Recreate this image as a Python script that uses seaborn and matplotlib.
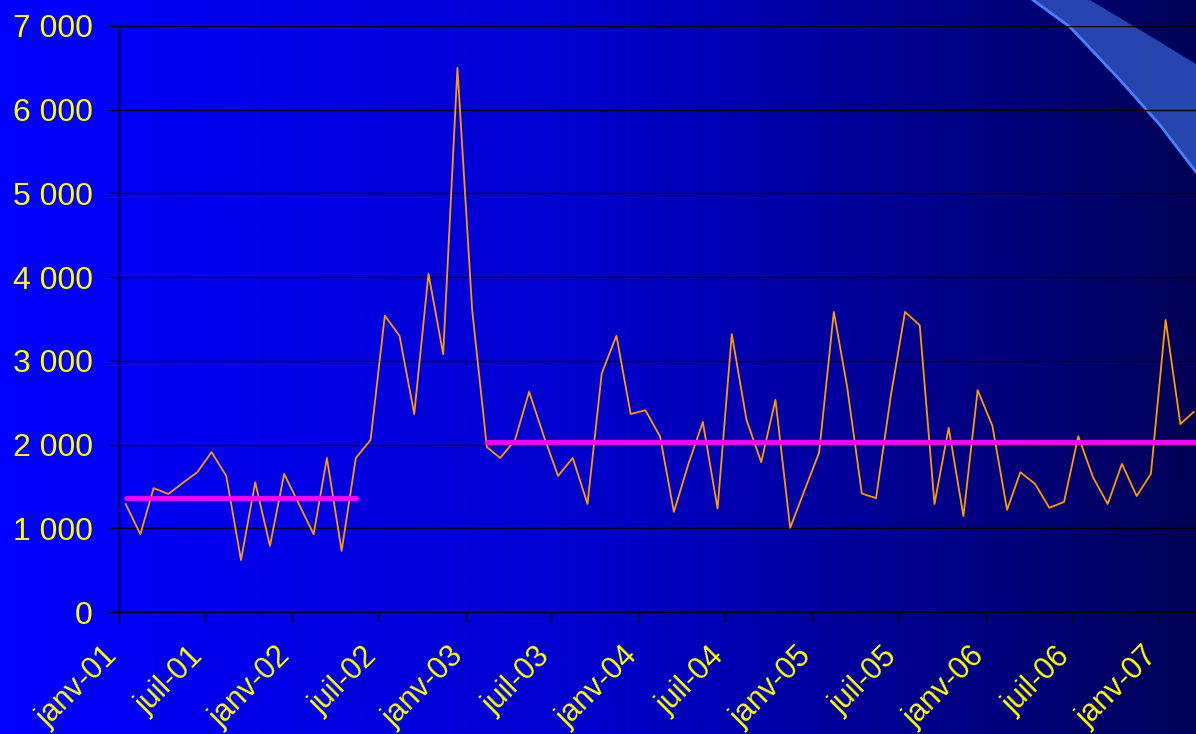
import numpy as np
import pandas as pd
import matplotlib
matplotlib.use("Agg")
import matplotlib.pyplot as plt
import matplotlib.transforms as mtransforms
from matplotlib.ticker import FuncFormatter
from matplotlib.colors import LinearSegmentedColormap
import seaborn as sns

# monthly values, janv-01 .. mars-07
values = [1290, 930, 1480, 1410, 1540, 1670, 1910, 1625, 620, 1550,
          790, 1650, 1290, 930, 1840, 730, 1840, 2055, 3540, 3300,
          2365, 4040, 3080, 6500, 3610, 1970, 1840, 2050, 2630, 2100,
          1625, 1840, 1290, 2850, 3300, 2365, 2410, 2095, 1195, 1775,
          2270, 1235, 3320, 2295, 1790, 2535, 1005, 1450, 1905, 3585,
          2690, 1415, 1360, 2580, 3585, 3425, 1290, 2200, 1145, 2650,
          2225, 1220, 1670, 1530, 1245, 1315, 2100, 1610, 1290, 1770,
          1385, 1650, 3490, 2245, 2390]
dates = pd.date_range("2001-01-01", periods=len(values), freq="MS") + pd.Timedelta(days=14)

# average levels before / after
mean_before = 1360
mean_after = 2030
before_range = (0, 16)
after_range = (25, len(values) - 1)

tick_dates = pd.date_range("2001-01-01", "2007-01-01", freq="6MS")
tick_labels = ["janv-01", "juil-01", "janv-02", "juil-02", "janv-03", "juil-03",
               "janv-04", "juil-04", "janv-05", "juil-05", "janv-06", "juil-06",
               "janv-07"]

df = pd.DataFrame({"date": dates, "value": values})

plt.rcParams['font.family'] = ['Liberation Sans', 'DejaVu Sans']

W, H = 1196, 734
fig = plt.figure(figsize=(W / 100, H / 100), dpi=100)

# background gradient + decorative band
bg = fig.add_axes([0, 0, 1, 1], zorder=-1)
cmap = LinearSegmentedColormap.from_list(
    "bg", [(0, (0, 0, 1.0)), (0.5, (0, 0, 0.80)), (1, (0, 0, 0.34))])
grad = np.linspace(0, 1, 512).reshape(1, -1)
bg.imshow(grad, cmap=cmap, aspect="auto", extent=[0, W, H, 0])
band_x = [1033, 1070, 1120, 1160, 1196, 1196, 1150, 1090]
band_y = [0, 27, 80, 125, 172, 64, 36, 0]
bg.fill(band_x, band_y, color="#2a4cb8", alpha=0.9, lw=0)
bg.plot(band_x[:5], band_y[:5], color="#4a80ff", lw=2)
bg.set_xlim(0, W)
bg.set_ylim(H, 0)
bg.axis("off")

ax = fig.add_axes([119 / W, 1 - 612 / H, (W - 119) / W, (612 - 26) / H])
ax.set_facecolor("none")

sns.lineplot(data=df, x="date", y="value", ax=ax, color="#ff9a00", lw=1.3)
sns.lineplot(x=[dates[before_range[0]], dates[before_range[1]]], y=[mean_before] * 2,
             ax=ax, color="#ff00ff", lw=3.5, solid_capstyle="round")
sns.lineplot(x=[dates[after_range[0]], dates[after_range[1]] + pd.Timedelta(days=30)],
             y=[mean_after] * 2, ax=ax, color="#ff00ff", lw=3.5, solid_capstyle="round")

ax.set_xlim(pd.Timestamp("2001-01-01"), pd.Timestamp("2001-01-01") + pd.Timedelta(days=2269))
ax.set_ylim(0, 7000)
ax.set_yticks(range(0, 7001, 1000))
ax.yaxis.set_major_formatter(FuncFormatter(lambda v, p: f"{int(v):,}".replace(",", " ")))
ax.set_xticks(tick_dates)
ax.set_xticklabels(tick_labels, rotation=45, ha="right", va="center", rotation_mode="anchor")
ax.grid(axis="y", color="black", lw=1)
ax.grid(axis="x", visible=False)
ax.set_axisbelow(True)
ax.set_xlabel("")
ax.set_ylabel("")
for s in ["top", "right"]:
    ax.spines[s].set_visible(False)
for s in ["left", "bottom"]:
    ax.spines[s].set_color("black")
    ax.spines[s].set_linewidth(1)
ax.tick_params(axis="y", colors="black", labelcolor="#ffff00", labelsize=23,
               length=7, width=1, pad=12)
ax.tick_params(axis="x", colors="black", labelcolor="#ffff00", labelsize=22,
               length=7.5, width=1, pad=21)
shift = mtransforms.ScaledTranslation(-6 / 100, 0, fig.dpi_scale_trans)
for lab in ax.get_xticklabels():
    lab.set_transform(lab.get_transform() + shift)

fig.savefig("out.png", dpi=100)
